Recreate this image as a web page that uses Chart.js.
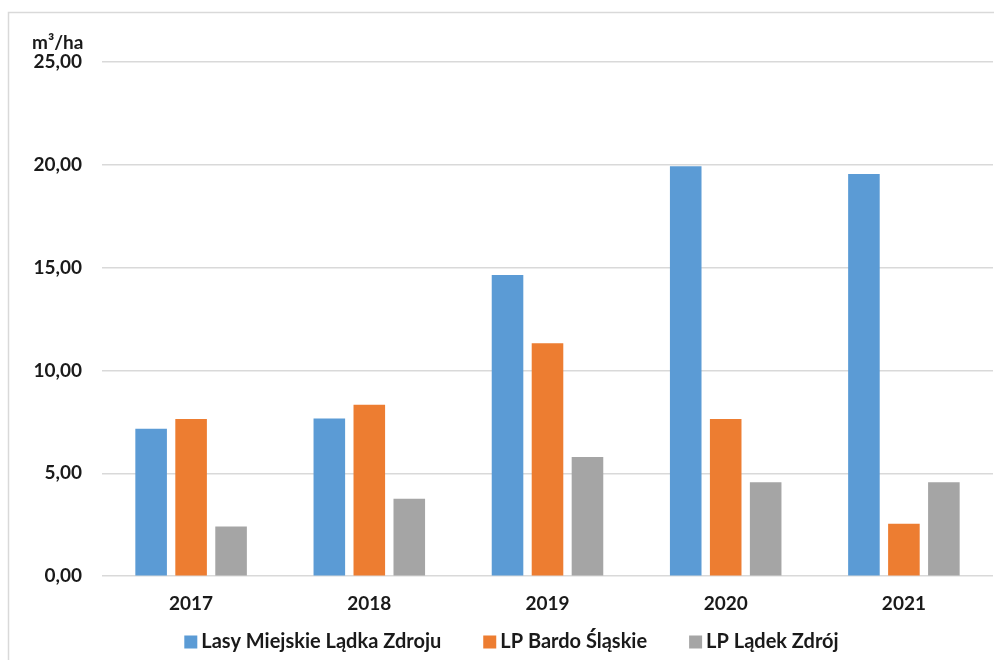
<!DOCTYPE html>
<html><head><meta charset="utf-8">
<script src="https://cdn.jsdelivr.net/npm/chart.js@4"></script>
<style>html,body{margin:0;padding:0;background:#fff}#wrap{width:994px;height:660px;position:relative}</style>
</head><body><div id="wrap"><canvas id="c" width="994" height="660"></canvas></div>
<script>
const categories = ['2017','2018','2019','2020','2021'];
const seriesNames = ['Lasy Miejskie Lądka Zdroju','LP Bardo Śląskie','LP Lądek Zdrój'];
const lasyMiejskie = [7.17, 7.67, 14.65, 19.93, 19.56];
const lpBardo = [7.64, 8.33, 11.33, 7.64, 2.55];
const lpLadek = [2.42, 3.77, 5.80, 4.57, 4.57];
const unitLabel = 'm³/ha';
const colors = ['#5B9BD5','#ED7D31','#A5A5A5'];

const FONT = 'Lato, "Open Sans", sans-serif';
const TEXT = '#1a1a1a';
const frame = {
  id:'frame',
  beforeDraw(chart){
    const c = chart.ctx;
    c.save();
    c.strokeStyle = '#d9d9d9'; c.lineWidth = 1.5;
    c.beginPath(); c.moveTo(8.5, 660); c.lineTo(8.5, 12.5); c.lineTo(994, 12.5); c.stroke();
    c.restore();
  },
  afterDraw(chart){
    const c = chart.ctx; const y = chart.scales.y;
    c.save();
    c.fillStyle = TEXT;
    c.font = 'bold 19px ' + FONT;
    c.textBaseline = 'middle'; c.textAlign = 'left';
    c.fillText(unitLabel, 32, y.getPixelForValue(25) - 19);
    // legend
    const ds = chart.data.datasets;
    c.font = 'bold 20px ' + FONT;
    const box = 13, gapText = 4, gapItem = 42;
    const widths = ds.map(d => c.measureText(d.label).width);
    const total = widths.reduce((a,b)=>a+b,0) + ds.length*(box+gapText) + (ds.length-1)*gapItem;
    let x = 511.5 - total/2;
    const cy = 642;
    ds.forEach((d,i)=>{
      c.fillStyle = d.backgroundColor;
      c.fillRect(x, cy - box/2, box, box);
      c.fillStyle = TEXT;
      c.fillText(d.label, x + box + gapText, cy);
      x += box + gapText + widths[i] + gapItem;
    });
    c.restore();
  }
};

new Chart(document.getElementById('c'), {
  type:'bar',
  data:{
    labels: categories,
    datasets:[
      {label: seriesNames[0], data: lasyMiejskie, backgroundColor: colors[0]},
      {label: seriesNames[1], data: lpBardo, backgroundColor: colors[1]},
      {label: seriesNames[2], data: lpLadek, backgroundColor: colors[2]}
    ]
  },
  options:{
    responsive:false, animation:false,
    layout:{padding:{top:62,right:1,left:0,bottom:29}},
    datasets:{bar:{categoryPercentage:0.673, barPercentage:0.79}},
    plugins:{
      tooltip:{enabled:false},
      legend:{display:false},
    },
    scales:{
      x:{grid:{display:false, drawTicks:false}, border:{display:false},
         ticks:{font:{family:FONT,size:19,weight:'bold'}, color:TEXT, padding:16}},
      y:{min:0,max:25, border:{display:false},
         grid:{color:'#d9d9d9', lineWidth:1.5, drawTicks:false},
         afterFit(s){ s.width = 102; },
         ticks:{stepSize:5, font:{family:FONT,size:19,weight:'bold'}, color:TEXT, padding:20,
           callback:v=>v.toFixed(2).replace('.',',')}}
    }
  },
  plugins:[frame]
});
</script></body></html>
